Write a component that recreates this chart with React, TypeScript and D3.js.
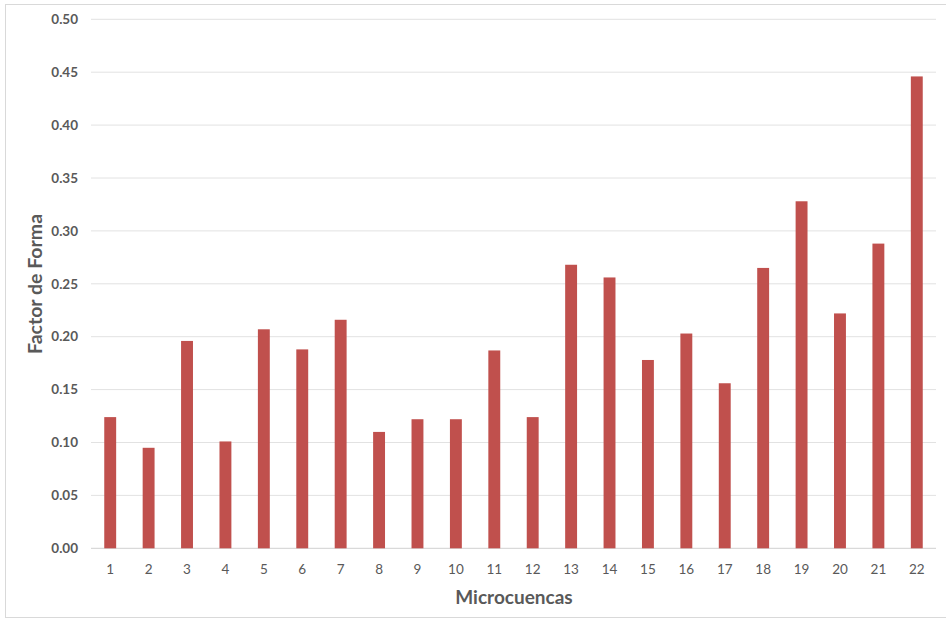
import React from "react";
import * as d3 from "d3";

const categories = ["1","2","3","4","5","6","7","8","9","10","11","12","13","14","15","16","17","18","19","20","21","22"];
const values = [0.124,0.095,0.196,0.101,0.207,0.188,0.216,0.110,0.122,0.122,0.187,0.124,0.268,0.256,0.178,0.203,0.156,0.265,0.328,0.222,0.288,0.446];
const yTicks = [0,0.05,0.1,0.15,0.2,0.25,0.3,0.35,0.4,0.45,0.5];

const W = 946, H = 620;
const left = 91, right = 936, top = 19.3, bottom = 548.3;
const FONT = "Lato, 'Open Sans', sans-serif";

export default function App() {
  const x = d3.scaleBand<string>().domain(categories).range([left, right]).paddingInner(0.69).paddingOuter(0.345);
  const y = d3.scaleLinear().domain([0, 0.5]).range([bottom, top]);
  return (
    <svg width={W} height={H} style={{ position: "absolute", left: 0, top: 0, background: "#fff" }}>
      <rect x={5.5} y={4.5} width={W} height={613} fill="#fff" stroke="#d9d9d9" />
      {yTicks.map((t) => (
        <g key={t}>
          <line x1={left} x2={right} y1={y(t)} y2={y(t)} stroke={t === 0 ? "#d0d0d0" : "#e2e2e2"} strokeWidth={1} />
          <text x={78} y={y(t)} dy="0.35em" textAnchor="end" fontFamily={FONT} fontWeight="bold" fontSize={13.5} fill="#595959">
            {d3.format(".2f")(t)}
          </text>
        </g>
      ))}
      {categories.map((c, i) => (
        <g key={c}>
          <rect x={x(c)} y={y(values[i])} width={x.bandwidth()} height={y(0) - y(values[i])} fill="#C0504D" />
          <text x={(x(c) as number) + x.bandwidth() / 2} y={569} dy="0.35em" textAnchor="middle" fontFamily={FONT} fontSize={13.5} fill="#595959">
            {c}
          </text>
        </g>
      ))}
      <text x={514} y={597} dy="0.35em" textAnchor="middle" fontFamily={FONT} fontWeight="bold" fontSize={19} fill="#595959">
        Microcuencas
      </text>
      <text transform={`translate(35,284) rotate(-90)`} dy="0.35em" textAnchor="middle" fontFamily={FONT} fontWeight="bold" fontSize={19.5} fill="#595959">
        Factor de Forma
      </text>
    </svg>
  );
}
